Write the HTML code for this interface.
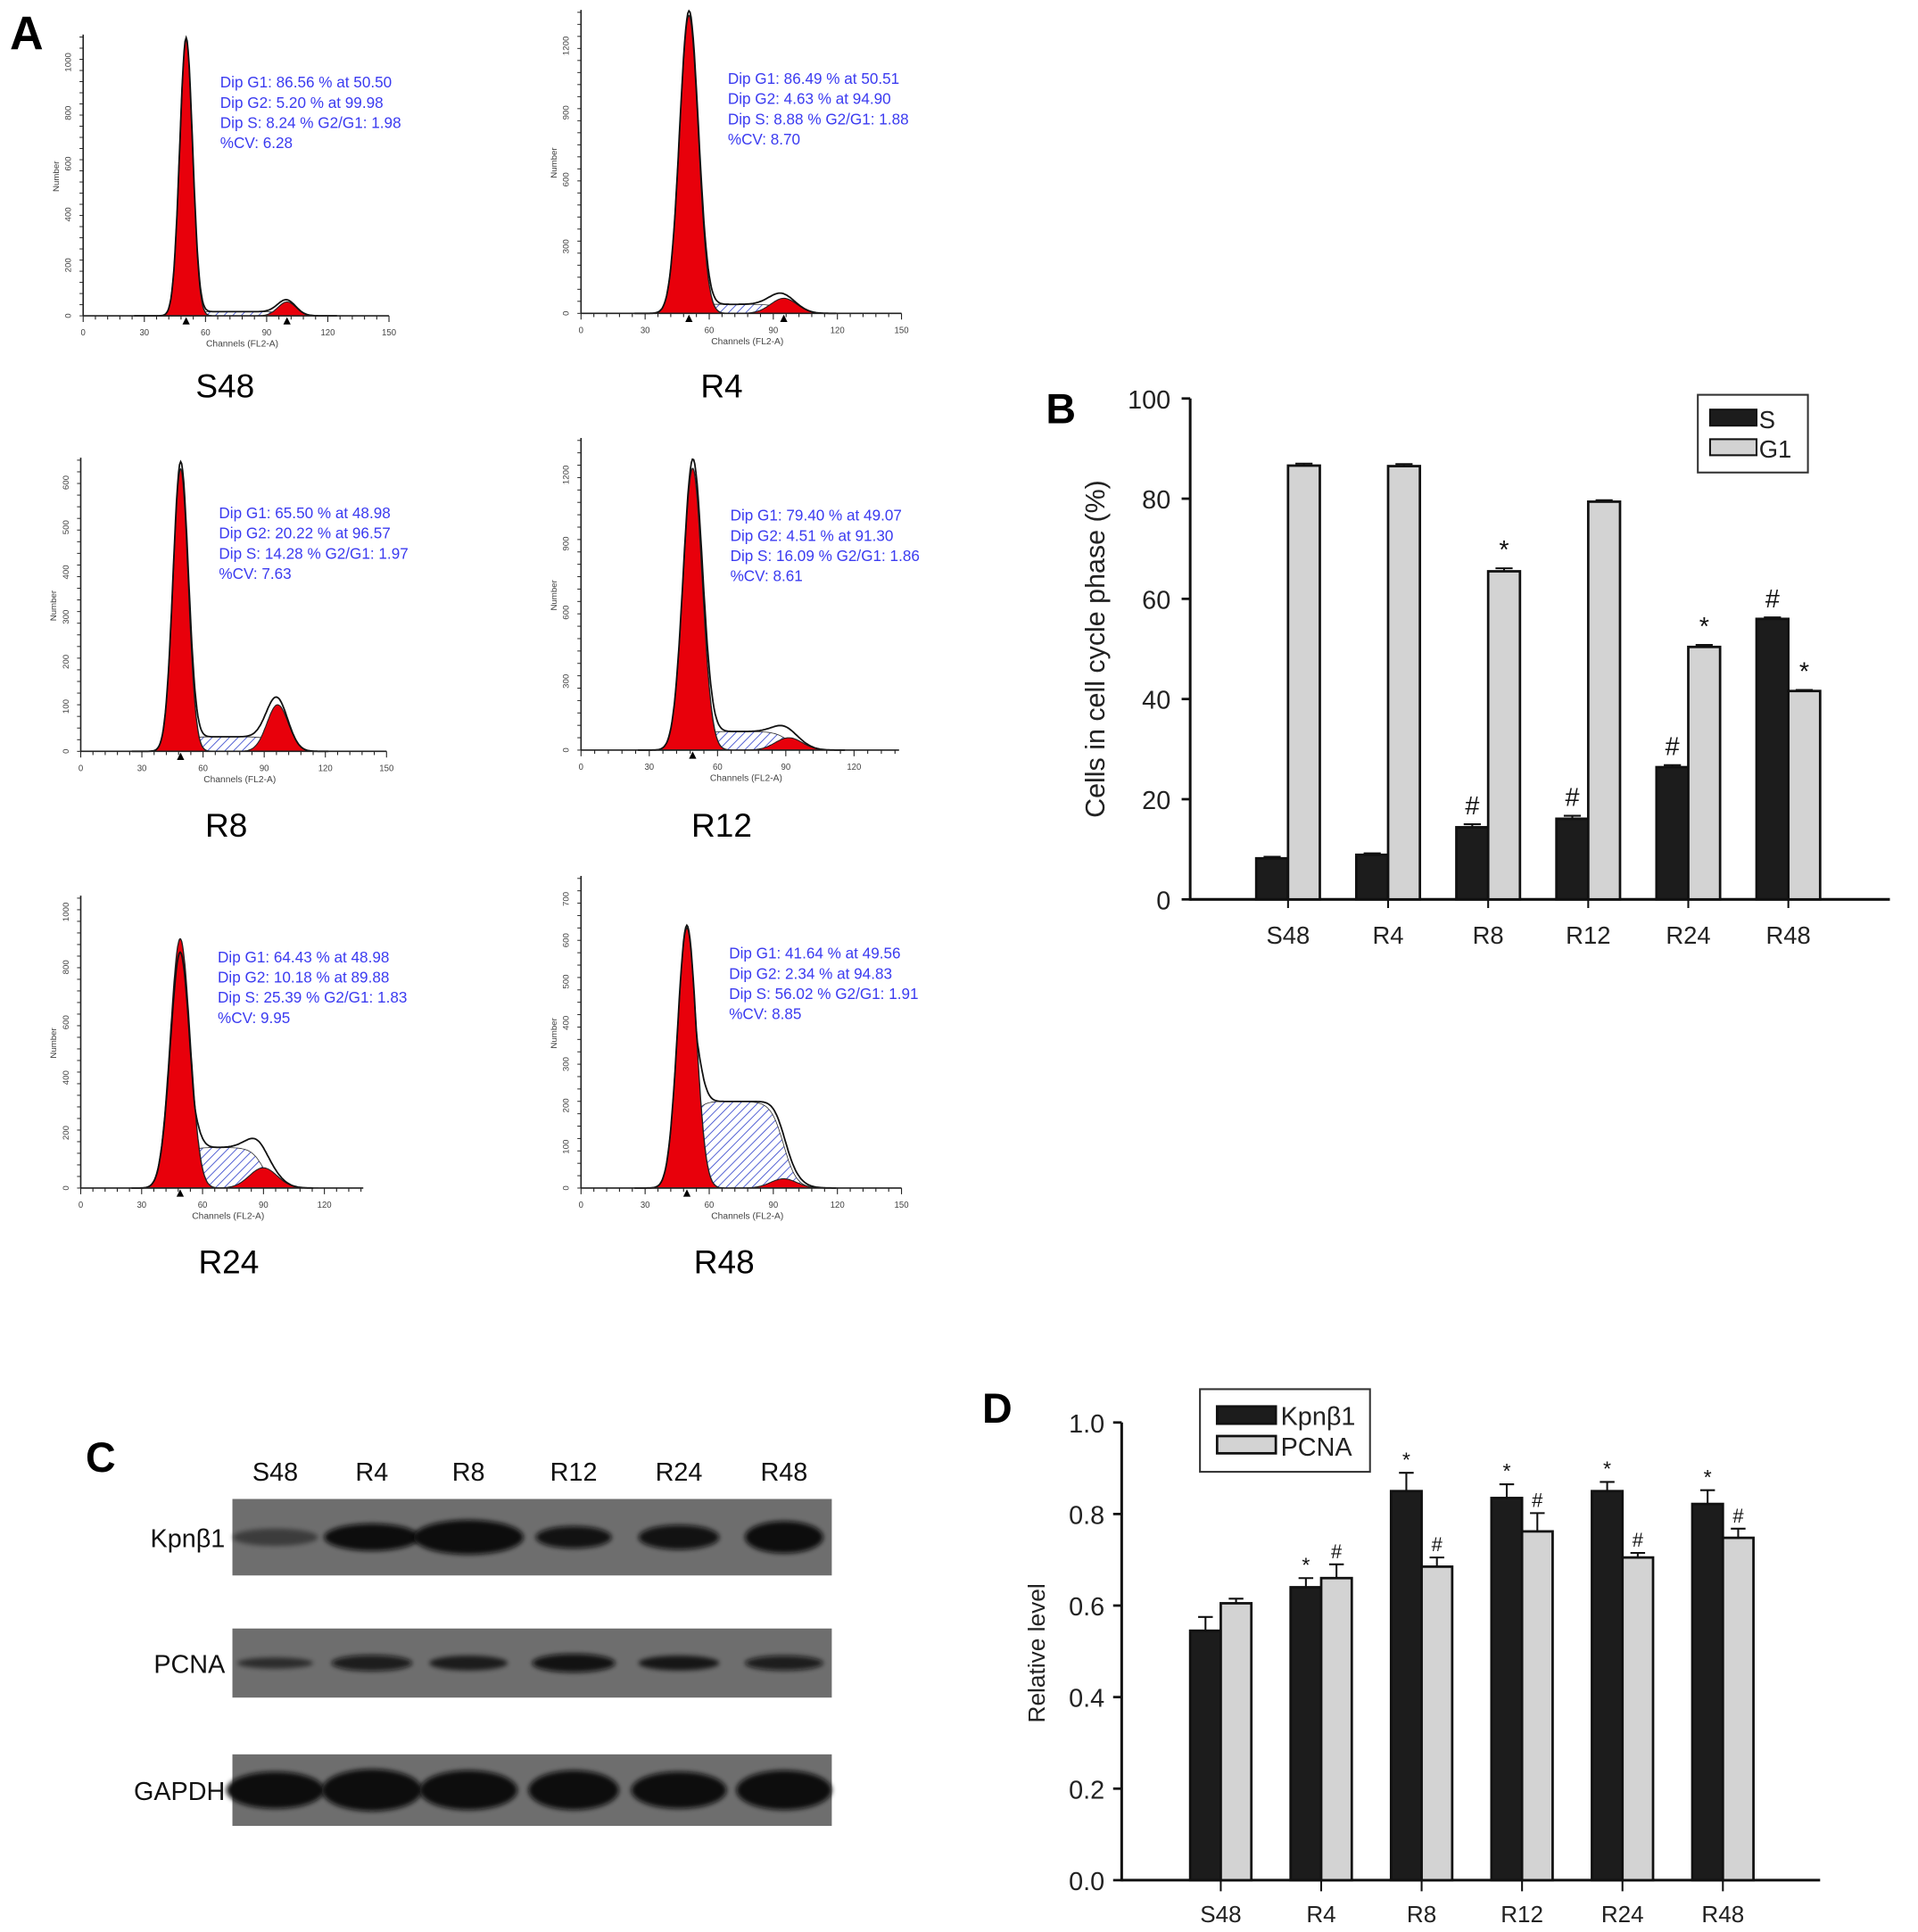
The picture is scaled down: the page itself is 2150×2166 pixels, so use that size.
<!DOCTYPE html>
<html><head><meta charset="utf-8">
<style>
html,body{margin:0;padding:0;background:#fff;}
svg{display:block;}
text{font-family:"Liberation Sans",Arial,sans-serif;}
</style></head>
<body>
<svg id="fig" xmlns="http://www.w3.org/2000/svg" width="2150" height="2166" viewBox="0 0 1568 1566" preserveAspectRatio="none">
<defs>
<pattern id="hatch" patternUnits="userSpaceOnUse" width="5" height="5" patternTransform="rotate(45)">
<rect width="5" height="5" fill="#fff"/><line x1="0" y1="0" x2="0" y2="5" stroke="#3344cc" stroke-width="1.2"/>
</pattern>
<filter id="blur" x="-20%" y="-50%" width="140%" height="200%"><feGaussianBlur stdDeviation="2"/></filter>
</defs>
<text x="8" y="40" font-size="38" font-weight="bold">A</text>
<text x="855" y="343" font-size="34" font-weight="bold">B</text>
<text x="70" y="1193" font-size="34" font-weight="bold">C</text>
<text x="803" y="1153" font-size="34" font-weight="bold">D</text>
<g id="panelA"></g>
<g id="panelB"></g>
<g id="panelC"></g>
<g id="panelD"></g>
</svg>
<script>
const NS='http://www.w3.org/2000/svg';
function mk(parent,tag,attrs,txt){const e=document.createElementNS(NS,tag);for(const k in attrs)e.setAttribute(k,attrs[k]);if(txt!==undefined)e.textContent=txt;parent.appendChild(e);return e;}

/* ---------- Panel B data ---------- */
const bCategories=['S48','R4','R8','R12','R24','R48'];
const bS=[8.2,8.9,14.4,16.1,26.4,56.0];
const bSerr=[0.3,0.3,0.6,0.6,0.4,0.3];
const bG1=[86.6,86.5,65.5,79.4,50.4,41.6];
const bG1err=[0.4,0.4,0.6,0.3,0.4,0.2];
const bSmark=['','','#','#','#','#'];
const bG1mark=['','','*','','*','*'];
const bTicks=[0,20,40,60,80,100];

/* ---------- Panel D data ---------- */
const dCategories=['S48','R4','R8','R12','R24','R48'];
const dKpn=[0.545,0.64,0.85,0.835,0.85,0.822];
const dKpnErr=[0.03,0.02,0.04,0.03,0.02,0.03];
const dPcna=[0.605,0.66,0.685,0.762,0.705,0.748];
const dPcnaErr=[0.01,0.03,0.02,0.04,0.01,0.02];
const dKpnMark=['','*','*','*','*','*'];
const dPcnaMark=['','#','#','#','#','#'];
const dTicks=[0,0.2,0.4,0.6,0.8,1.0];

/* ---------- Panel A histogram data ---------- */
const aNames=['S48','R4','R8','R12','R24','R48'];
const aG1pos=[50.50,50.51,48.98,49.07,48.98,49.56];
const aG2pos=[99.98,94.90,96.57,91.30,89.88,94.83];
const aCV=[6.28,8.70,7.63,8.61,9.95,8.85];
const aG1h=[0.99,0.99,0.97,0.91,0.86,0.84];
const aG2h=[0.05,0.05,0.16,0.04,0.07,0.03];
const aSh=[0.015,0.03,0.05,0.06,0.14,0.28];
const aTotalPeak=[0.99,0.99,0.97,0.91,0.88,0.99];
const aYmax=[1100,1350,650,1350,1050,750];
const aInfo=[
['Dip G1: 86.56 % at 50.50','Dip G2: 5.20 % at 99.98','Dip S: 8.24 %   G2/G1: 1.98','%CV: 6.28'],
['Dip G1: 86.49 % at 50.51','Dip G2: 4.63 % at 94.90','Dip S: 8.88 %   G2/G1: 1.88','%CV: 8.70'],
['Dip G1: 65.50 % at 48.98','Dip G2: 20.22 % at 96.57','Dip S: 14.28 %   G2/G1: 1.97','%CV: 7.63'],
['Dip G1: 79.40 % at 49.07','Dip G2: 4.51 % at 91.30','Dip S: 16.09 %   G2/G1: 1.86','%CV: 8.61'],
['Dip G1: 64.43 % at 48.98','Dip G2: 10.18 % at 89.88','Dip S: 25.39 %   G2/G1: 1.83','%CV: 9.95'],
['Dip G1: 41.64 % at 49.56','Dip G2: 2.34 % at 94.83','Dip S: 56.02 %   G2/G1: 1.91','%CV: 8.85']];
const aLayout=[
{x0:68,x1:318,axEnd:318,yTop:30,yBase:256,tx:180,ty:71,lx:184,ly:322},
{x0:475,x1:737,axEnd:737,yTop:10,yBase:254,tx:595,ty:68,lx:590,ly:322},
{x0:66,x1:316,axEnd:316,yTop:373,yBase:609,tx:179,ty:420,lx:185,ly:678},
{x0:475,x1:754,axEnd:735,yTop:357,yBase:608,tx:597,ty:422,lx:590,ly:678},
{x0:66,x1:315,axEnd:297,yTop:728,yBase:963,tx:178,ty:780,lx:187,ly:1032},
{x0:475,x1:737,axEnd:737,yTop:712,yBase:963,tx:596,ty:777,lx:592,ly:1032}];

const A=document.getElementById('panelA');
function gauss(x,m,s){return Math.exp(-0.5*((x-m)/s)*((x-m)/s));}
function sig(z){return 1/(1+Math.exp(-z));}
aNames.forEach((nm,i)=>{
  const L=aLayout[i];
  const g=mk(A,'g',{});
  
  
  const H=L.yBase-L.yTop;
  const X=c=>L.x0+(L.x1-L.x0)*c/150;
  const Y=f=>L.yBase-H*f;
  const s1=aCV[i]*aG1pos[i]/100, s2=s1*1.4;
  const chEnd=150*(L.axEnd-L.x0)/(L.x1-L.x0);
  const sFun=c=>aSh[i]*sig((c-aG1pos[i])/2.5)*sig((aG2pos[i]-c)/3);
  const g1=c=>aG1h[i]*gauss(c,aG1pos[i],s1);
  const g2=c=>aG2h[i]*gauss(c,aG2pos[i],s2);
  let p='M'+X(aG1pos[i]-5)+','+Y(0);
  for(let c=aG1pos[i]-5;c<=aG2pos[i]+12;c+=0.5)p+=' L'+X(c).toFixed(1)+','+Y(sFun(c)).toFixed(1);
  p+=' L'+X(aG2pos[i]+12)+','+Y(0)+'Z';
  const hs=mk(g,'path',{d:p,fill:'url(#hatch)',stroke:'#333','stroke-width':0.6});
  
  
  p='M'+X(aG1pos[i]-4*s1)+','+Y(0);
  for(let c=aG1pos[i]-4*s1;c<=aG1pos[i]+4*s1;c+=0.25)p+=' L'+X(c).toFixed(1)+','+Y(g1(c)).toFixed(1);
  p+='Z';
  const r1=mk(g,'path',{d:p,fill:'#e8000b',stroke:'#222','stroke-width':1});
  
  
  p='M'+X(aG2pos[i]-4*s2)+','+Y(0);
  for(let c=aG2pos[i]-4*s2;c<=aG2pos[i]+4*s2;c+=0.5)p+=' L'+X(c).toFixed(1)+','+Y(g2(c)).toFixed(1);
  p+='Z';
  const r2=mk(g,'path',{d:p,fill:'#e8000b',stroke:'#222','stroke-width':0.8});
  
  
  const scale=aTotalPeak[i]/Math.max(aG1h[i]+aSh[i]*0.5,0.01);
  p='';
  for(let c=25;c<=Math.min(chEnd,aG2pos[i]+25);c+=0.5){
    let v=g1(c)+sFun(c)+g2(c);
    if(i===5||i===4){v=Math.max(g1(c)*scale,sFun(c)+g2(c)+g1(c)*0.5);}
    p+=(p?' L':'M')+X(c).toFixed(1)+','+Y(v).toFixed(1);
  }
  const ol=mk(g,'path',{d:p,fill:'none',stroke:'#111','stroke-width':1.3});
  
  
  mk(g,'line',{x1:L.x0,y1:L.yTop-2,x2:L.x0,y2:L.yBase,stroke:'#222','stroke-width':1.2});
  mk(g,'line',{x1:L.x0,y1:L.yBase,x2:L.axEnd,y2:L.yBase,stroke:'#222','stroke-width':1.2});
  for(let c=0;c<=chEnd+0.1;c+=6){const big=c%30===0;mk(g,'line',{x1:X(c),y1:L.yBase,x2:X(c),y2:L.yBase+(big?5:3),stroke:'#222','stroke-width':0.8});
    if(big){mk(g,'text',{x:X(c),y:L.yBase+16,'font-size':7,'text-anchor':'middle',fill:'#444'},String(c));}}
  for(let k=0;k<=25;k++){const yy=L.yBase-H*k/25;mk(g,'line',{x1:L.x0-3,y1:yy,x2:L.x0,y2:yy,stroke:'#222','stroke-width':0.7});}
  const ys=aYmax[i]>1000?(aYmax[i]>1200?300:200):100;
  for(let v=0;v<=aYmax[i];v+=ys){const yy=L.yBase-H*v/aYmax[i];mk(g,'text',{x:0,y:0,'font-size':7,'text-anchor':'middle',fill:'#444',transform:`translate(${L.x0-10},${yy}) rotate(-90)`},String(v));}
  mk(g,'text',{x:0,y:0,'font-size':7,'text-anchor':'middle',fill:'#444',transform:`translate(${L.x0-20},${(L.yTop+L.yBase)/2}) rotate(-90)`},'Number');
  mk(g,'text',{x:(L.x0+L.axEnd)/2+5,y:L.yBase+25,'font-size':7.5,'text-anchor':'middle',fill:'#444'},'Channels (FL2-A)');
  [aG1pos[i]].concat(i<2?[aG2pos[i]]:[]).forEach(c=>mk(g,'path',{d:`M${X(c)-3},${L.yBase+7} L${X(c)+3},${L.yBase+7} L${X(c)},${L.yBase+1}Z`,fill:'#000'}));
  aInfo[i].forEach((s,j)=>{const t=mk(g,'text',{x:L.tx,y:L.ty+j*16.4,'font-size':12.5,fill:'#3b3bf0'},s);
    
    });
  const lab=mk(g,'text',{x:L.lx,y:L.ly,'font-size':27,'text-anchor':'middle',fill:'#000'},nm);
  
  
});

/* ---------- Panel B ---------- */
(function(){
const B=document.getElementById('panelB');
const ax={x0:973,x1:1545,y0:729,y1:323,c0:1053,dc:81.8,bw:26};
const y=v=>ax.y0-(ax.y0-ax.y1)*v/100;
const cx=i=>ax.c0+i*ax.dc;
const yl=mk(B,'line',{x1:ax.x0,y1:ax.y1,x2:ax.x0,y2:ax.y0+1,stroke:'#111','stroke-width':2.2});

const xl=mk(B,'line',{x1:ax.x0,y1:ax.y0,x2:ax.x1,y2:ax.y0,stroke:'#111','stroke-width':2.2});

bTicks.forEach(t=>{mk(B,'line',{x1:ax.x0-7,y1:y(t),x2:ax.x0,y2:y(t),stroke:'#111','stroke-width':2});
  const tl=mk(B,'text',{x:ax.x0-16,y:y(t)+8,'font-size':21,'text-anchor':'end',fill:'#222'},String(t));
  });
const yt=mk(B,'text',{x:0,y:0,'font-size':22,'text-anchor':'middle',fill:'#222',transform:`translate(903,${(ax.y0+ax.y1)/2}) rotate(-90)`},'Cells in cell cycle phase (%)');

bCategories.forEach((c,i)=>{
  mk(B,'line',{x1:cx(i),y1:ax.y0,x2:cx(i),y2:ax.y0+7,stroke:'#111','stroke-width':1.5});
  const cl=mk(B,'text',{x:cx(i),y:ax.y0+36,'font-size':20,'text-anchor':'middle',fill:'#222'},c);
  
  const series=[[bS,bSerr,bSmark,'#1c1c1c',-ax.bw,'s'],[bG1,bG1err,bG1mark,'#d3d3d3',0,'g1']];
  series.forEach(([vals,errs,marks,col,off,key])=>{
    const x=cx(i)+off,top=y(vals[i]);
    const r=mk(B,'rect',{x:x,y:top,width:ax.bw,height:ax.y0-top,fill:col,stroke:'#111','stroke-width':2});
    
    
    const ye=y(vals[i]+errs[i]);
    mk(B,'line',{x1:x+ax.bw/2,y1:top,x2:x+ax.bw/2,y2:ye,stroke:'#111','stroke-width':1.5});
    mk(B,'line',{x1:x+ax.bw/2-7,y1:ye,x2:x+ax.bw/2+7,y2:ye,stroke:'#111','stroke-width':1.5});
    if(marks[i]){const m=mk(B,'text',{x:x+ax.bw/2,y:ye-8,'font-size':21,'text-anchor':'middle',fill:'#111'},marks[i]);
      }
  });
});
const lg=mk(B,'g',{});

mk(lg,'rect',{x:1388,y:320,width:90,height:63,fill:'#fff',stroke:'#333','stroke-width':1.5});
mk(lg,'rect',{x:1398,y:332,width:38,height:13,fill:'#1c1c1c',stroke:'#111','stroke-width':1.5});
mk(lg,'rect',{x:1398,y:356,width:38,height:13,fill:'#d3d3d3',stroke:'#111','stroke-width':1.5});
mk(lg,'text',{x:1438,y:347,'font-size':20,fill:'#222'},'S');
mk(lg,'text',{x:1438,y:371,'font-size':20,fill:'#222'},'G1');
})();

/* ---------- Panel C ---------- */
(function(){
const C=document.getElementById('panelC');
const lanes=['S48','R4','R8','R12','R24','R48'];
const laneX=[225,304,383,469,555,641];
const kpnInt=[0.45,1,1,0.95,0.95,1];
const kpnW=[70,78,90,62,66,64];
const kpnH=[14,22,28,18,20,26];
const pcnaInt=[0.6,0.85,0.75,0.95,0.8,0.85];
const pcnaH=[9,13,12,15,12,12];
const gapInt=[1,1,1,1,1,1];
const gapH=[30,34,32,32,30,32];
lanes.forEach((l,i)=>{const t=mk(C,'text',{x:laneX[i],y:1200,'font-size':21,'text-anchor':'middle',fill:'#111'},l);
  });
const rows=[['Kpnβ1',1215,1277,kpnInt,kpnW,kpnH],['PCNA',1320,1376,pcnaInt,[62,66,64,68,66,64],pcnaH],['GAPDH',1422,1480,gapInt,[80,82,80,74,78,78],gapH]];
rows.forEach(([name,y0,y1,ints,ws,hs])=>{
  const g=mk(C,'g',{});
  
  
  mk(g,'rect',{x:190,y:y0,width:490,height:y1-y0,fill:'#6e6e6e'});
  const cy=(y0+y1)/2;
  ints.forEach((v,i)=>{mk(g,'ellipse',{cx:laneX[i],cy:cy,rx:ws[i]/2,ry:hs[i]/2,fill:'#080808','fill-opacity':v,filter:'url(#blur)'});});
  const t=mk(C,'text',{x:184,y:cy+8,'font-size':21,'text-anchor':'end',fill:'#111'},name);
  
});
})();

/* ---------- Panel D ---------- */
(function(){
const D=document.getElementById('panelD');
const ax={x0:917,x1:1488,y0:1524,y1:1153,c0:998,dc:82.1,bw:25};
const y=v=>ax.y0-(ax.y0-ax.y1)*v/1.0;
const cx=i=>ax.c0+i*ax.dc;
const yl=mk(D,'line',{x1:ax.x0,y1:ax.y1,x2:ax.x0,y2:ax.y0+1,stroke:'#111','stroke-width':2.2});

const xl=mk(D,'line',{x1:ax.x0,y1:ax.y0,x2:ax.x1,y2:ax.y0,stroke:'#111','stroke-width':2.2});

dTicks.forEach(t=>{mk(D,'line',{x1:ax.x0-7,y1:y(t),x2:ax.x0,y2:y(t),stroke:'#111','stroke-width':2});
  const tl=mk(D,'text',{x:ax.x0-14,y:y(t)+8,'font-size':21,'text-anchor':'end',fill:'#222'},t.toFixed(1));
  });
const yt=mk(D,'text',{x:0,y:0,'font-size':19,'text-anchor':'middle',fill:'#222',transform:`translate(854,1340) rotate(-90)`},'Relative level');

dCategories.forEach((c,i)=>{
  mk(D,'line',{x1:cx(i),y1:ax.y0,x2:cx(i),y2:ax.y0+9,stroke:'#111','stroke-width':1.5});
  const cl=mk(D,'text',{x:cx(i),y:ax.y0+34,'font-size':19,'text-anchor':'middle',fill:'#222'},c);
  
  [[dKpn,dKpnErr,dKpnMark,'#1c1c1c',-ax.bw,'kpnb1',17],[dPcna,dPcnaErr,dPcnaMark,'#d3d3d3',0,'pcna',16]].forEach(([vals,errs,marks,col,off,key,fs])=>{
    const x=cx(i)+off,top=y(vals[i]);
    const r=mk(D,'rect',{x:x,y:top,width:ax.bw,height:ax.y0-top,fill:col,stroke:'#111','stroke-width':2});
    
    
    const ye=y(vals[i]+errs[i]);
    mk(D,'line',{x1:x+ax.bw/2,y1:top,x2:x+ax.bw/2,y2:ye,stroke:'#111','stroke-width':1.5});
    mk(D,'line',{x1:x+ax.bw/2-6,y1:ye,x2:x+ax.bw/2+6,y2:ye,stroke:'#111','stroke-width':1.5});
    if(marks[i]){const m=mk(D,'text',{x:x+ax.bw/2,y:ye-5,'font-size':fs,'text-anchor':'middle',fill:'#111'},marks[i]);
      }
  });
});
const lg=mk(D,'g',{});

mk(lg,'rect',{x:981,y:1126,width:139,height:67,fill:'#fff',stroke:'#333','stroke-width':1.5});
mk(lg,'rect',{x:995,y:1140,width:48,height:14,fill:'#1c1c1c',stroke:'#111','stroke-width':2});
mk(lg,'rect',{x:995,y:1164,width:48,height:14,fill:'#d3d3d3',stroke:'#111','stroke-width':2});
mk(lg,'text',{x:1047,y:1155,'font-size':21,fill:'#222'},'Kpnβ1');
mk(lg,'text',{x:1047,y:1180,'font-size':21,fill:'#222'},'PCNA');
})();
</script>
</body></html>
